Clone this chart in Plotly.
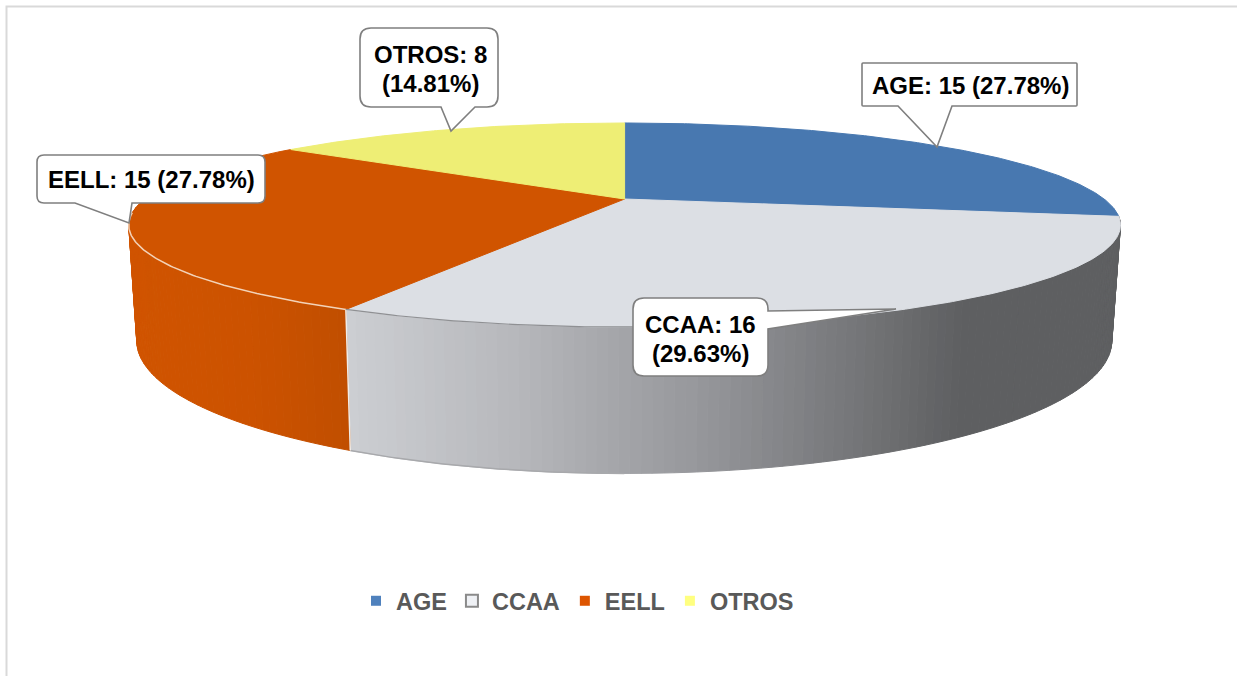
import math
import plotly.graph_objects as go

categories = ["AGE", "CCAA", "EELL", "OTROS"]
values = [15, 16, 15, 8]
percent_labels = ["27.78%", "29.63%", "27.78%", "14.81%"]
top_colors = ["#4878b0", "#dcdfe4", "#d05400", "#eeee75"]
legend_fill = ["#4f81bd", "#eff1f5", "#dd5500", "#ffff80"]
legend_line = ["#4f81bd", "#8a8a8a", "#dd5500", "#ffff80"]

W, H = 1237, 676
K = 0.255
TOP = dict(x0=624.6, y0=199.0, bx=479.5, ay=95.4)
BOT = dict(x0=624.3, y0=307.0, bx=471.4, ay=124.0)


def project(theta, disc):
    u, v = math.sin(theta), math.cos(theta)
    d = 1 + K * v
    return disc["x0"] + disc["bx"] * u / d, disc["y0"] - disc["ay"] * v / d


def arc(a0, a1, disc, step=math.radians(0.5)):
    n = max(2, int(abs(a1 - a0) / step))
    return [project(a0 + (a1 - a0) * i / n, disc) for i in range(n + 1)]


def lerp_stops(x, stops):
    if x <= stops[0][0]:
        return stops[0][1]
    for (x0, c0), (x1, c1) in zip(stops, stops[1:]):
        if x <= x1:
            t = (x - x0) / (x1 - x0)
            return tuple(c0[i] + (c1[i] - c0[i]) * t for i in range(3))
    return stops[-1][1]


def rgb(c):
    return "rgb(%d,%d,%d)" % tuple(round(v) for v in c)


GREY_STOPS = [(350, (204, 206, 210)), (520, (182, 183, 187)), (700, (150, 151, 155)),
              (830, (122, 123, 126)), (960, (94, 95, 97)), (1125, (94, 95, 97))]
ORANGE_STOPS = [(130, (208, 84, 0)), (250, (204, 82, 0)), (350, (192, 78, 0))]

total = sum(values)
angles = [0.0]
for v in values:
    angles.append(angles[-1] + v / total * 2 * math.pi)

fig = go.Figure()


def poly(points, color, line=None):
    fig.add_trace(go.Scatter(
        x=[p[0] for p in points] + [points[0][0]],
        y=[p[1] for p in points] + [points[0][1]],
        mode="lines", fill="toself", fillcolor=color,
        line=dict(color=line or color, width=1),
        hoverinfo="skip", showlegend=False))


def line(points, color, width):
    fig.add_trace(go.Scatter(
        x=[p[0] for p in points], y=[p[1] for p in points], mode="lines",
        line=dict(color=color, width=width), hoverinfo="skip", showlegend=False))


# Side walls of the two slices that face the viewer
side_stops = {1: GREY_STOPS, 2: ORANGE_STOPS}
for idx in (1, 2):
    a0, a1 = angles[idx], angles[idx + 1]
    if idx == 2:
        a1 = min(a1, math.radians(270))
    n = int((a1 - a0) / math.radians(1.0))
    for i in range(n):
        t0 = a0 + (a1 - a0) * i / n
        t1 = a0 + (a1 - a0) * (i + 1) / n
        q = [project(t0, TOP), project(t1, TOP), project(t1, BOT), project(t0, BOT)]
        xc = sum(p[0] for p in q) / 4
        poly(q, rgb(lerp_stops(xc, side_stops[idx])))

# Lower rim of the grey wall and the light seam between the walls
line(arc(angles[2], math.radians(180), BOT), "#a8a9ac", 1.5)
line([project(angles[2], TOP), project(angles[2], BOT)], "#f0ece8", 1.5)

# Top face
for i, c in enumerate(top_colors):
    pts = [(TOP["x0"], TOP["y0"])] + arc(angles[i], angles[i + 1], TOP)
    poly(pts, c)

# Front rims of the top face
line(arc(angles[2], math.radians(262), TOP), "#f3d3b8", 1.5)
line(arc(angles[2], math.radians(175), TOP), "#8f9093", 1.2)

# Legend entries
for name, f, l in zip(categories, legend_fill, legend_line):
    hollow = l != f
    fig.add_trace(go.Scatter(
        x=[None], y=[None], mode="markers", name=name,
        marker=dict(symbol="square", size=12 if hollow else 10, color=f,
                    line=dict(color=l, width=2 if hollow else 0))))


def callout(x0, y0, x1, y1, r, tail, edge):
    """Rounded box path with a pointer; tail = (a, tip, b), edge = 'bottom'|'right'."""
    a, tip, b = tail
    p = [f"M {x0 + r} {y0}"]
    p.append(f"L {x1 - r} {y0} Q {x1} {y0} {x1} {y0 + r}")
    if edge == "right":
        p.append(f"L {x1} {a[1]} L {tip[0]} {tip[1]} L {x1} {b[1]}")
    p.append(f"L {x1} {y1 - r} Q {x1} {y1} {x1 - r} {y1}")
    if edge == "bottom":
        p.append(f"L {b[0]} {y1} L {tip[0]} {tip[1]} L {a[0]} {y1}")
    p.append(f"L {x0 + r} {y1} Q {x0} {y1} {x0} {y1 - r}")
    p.append(f"L {x0} {y0 + r} Q {x0} {y0} {x0 + r} {y0} Z")
    return " ".join(p)


boxes = [
    dict(box=(862, 63, 1077, 106), r=1, tail=((898, 106), (937, 147), (952, 106)), edge="bottom",
         texts=[(970, 85, f"{categories[0]}: {values[0]} ({percent_labels[0]})")]),
    dict(box=(633, 298, 768, 376), r=11, tail=((768, 311), (896, 309), (768, 329)), edge="right",
         texts=[(700.5, 324.5, f"{categories[1]}: {values[1]}"), (700.5, 353, f"({percent_labels[1]})")]),
    dict(box=(37, 155, 265, 203), r=7, tail=((75, 203), (129, 223), (132, 203)), edge="bottom",
         texts=[(151, 179.5, f"{categories[2]}: {values[2]} ({percent_labels[2]})")]),
    dict(box=(360, 28, 498, 107), r=11, tail=((441, 107), (451, 131), (475, 107)), edge="bottom",
         texts=[(430, 54.5, f"{categories[3]}: {values[3]}"), (430, 83, f"({percent_labels[3]})")]),
]

shapes = [dict(type="path", path=f"M 6.5 {H + 5} L 6.5 6.5 L {W + 5} 6.5", line=dict(color="#d9d9d9", width=2),
               layer="below", xref="x", yref="y")]
annotations = []
for b in boxes:
    shapes.append(dict(type="path", path=callout(*b["box"], b["r"], b["tail"], b["edge"]),
                       fillcolor="#ffffff", line=dict(color="#7f7f7f", width=1.6),
                       layer="above", xref="x", yref="y"))
    for cx, cy, s in b["texts"]:
        annotations.append(dict(x=cx, y=cy, xref="x", yref="y", text=s, showarrow=False,
                                font=dict(family="Liberation Sans", size=24, color="#000000", weight="bold"),
                                align="center"))

fig.update_layout(
    width=W, height=H, margin=dict(l=0, r=0, t=0, b=0),
    paper_bgcolor="#ffffff", plot_bgcolor="#ffffff",
    xaxis=dict(range=[0, W], visible=False, fixedrange=True),
    yaxis=dict(range=[H, 0], visible=False, fixedrange=True),
    shapes=shapes, annotations=annotations,
    legend=dict(orientation="h", x=356 / W, xanchor="left", y=1 - 579 / H, yanchor="top",
                font=dict(family="Liberation Sans", size=23.5, color="#595959", weight="bold"),
                bgcolor="rgba(0,0,0,0)", itemwidth=30),
    showlegend=True,
)

fig.write_html("out.html", config=dict(displayModeBar=False),
               post_script="document.body.style.margin='0';document.body.style.overflow='hidden';")
